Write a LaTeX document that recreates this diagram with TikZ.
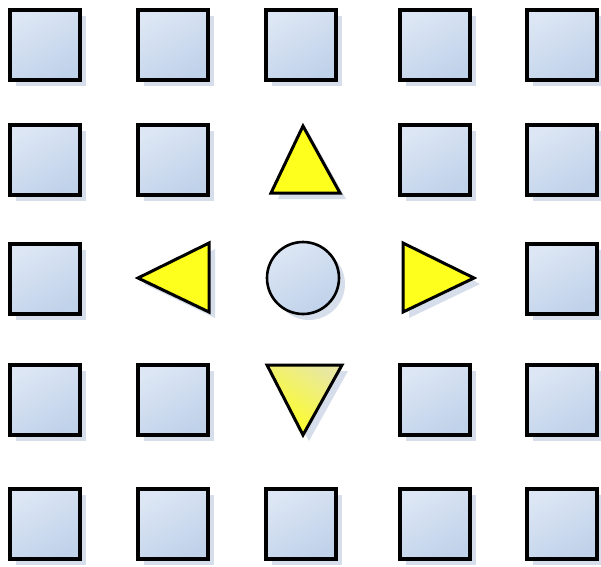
\documentclass[tikz,border=0pt]{standalone}
\usetikzlibrary{shadows}
\definecolor{sqA}{RGB}{192,210,234}
\definecolor{sqB}{RGB}{220,230,244}
\definecolor{shad}{RGB}{215,222,235}
\definecolor{yelA}{RGB}{255,255,30}
\definecolor{yelB}{RGB}{232,232,160}
\tikzset{
  x=1pt, y=-1pt,
  box/.style={draw=black, line width=3.6pt, minimum size=70pt, inner sep=0pt,
    bottom color=sqA, top color=sqB, shading angle=30,
    drop shadow={shadow xshift=6pt, shadow yshift=-6pt, fill=shad, opacity=1}},
  ball/.style={draw=black, line width=2.6pt, circle, minimum size=72pt, inner sep=0pt,
    bottom color=sqA, top color=sqB, shading angle=30,
    drop shadow={shadow xshift=6pt, shadow yshift=-6pt, fill=shad, opacity=1}},
  tri/.style={draw=black, line width=3pt, line join=miter, fill=yelA},
  trishadow/.style={fill=shad},
}
\begin{document}
\begin{tikzpicture}
\useasboundingbox (0,0) rectangle (601,566);
% squares
\foreach \i/\cx in {1/45,2/173,3/301,4/435,5/562}{
  \foreach \j/\cy in {1/45,2/160,3/279,4/400,5/524}{
    \pgfmathsetmacro{\skip}{(\j==2 && \i==3) || (\j==3 && \i>1 && \i<5) || (\j==4 && \i==3) ? 1 : 0}
    \ifdim\skip pt<0.5pt
      \node[box] (s\j\i) at (\cx,\cy) {};
    \fi
  }
}
% centre circle
\node[ball] (c) at (303,278) {};
% triangle shadows
\fill[trishadow] (308,131) -- (346,199) -- (278,199) -- cycle;
\fill[trishadow] (144,284) -- (215,249) -- (215,318) -- cycle;
\fill[trishadow] (480,284) -- (409,249) -- (409,318) -- cycle;
\fill[trishadow] (273,371) -- (348,371) -- (309,441) -- cycle;
% triangles
\draw[tri] (303,126) -- (340,193) -- (271,193) -- cycle;
\draw[tri] (138,278) -- (209,243) -- (209,312) -- cycle;
\draw[tri] (474,278) -- (403,243) -- (403,312) -- cycle;
\shade[draw=black, line width=3pt, line join=miter, top color=yelB, bottom color=yelA, shading angle=-35]
  (267,365) -- (342,365) -- (303,435) -- cycle;
\end{tikzpicture}
\end{document}
